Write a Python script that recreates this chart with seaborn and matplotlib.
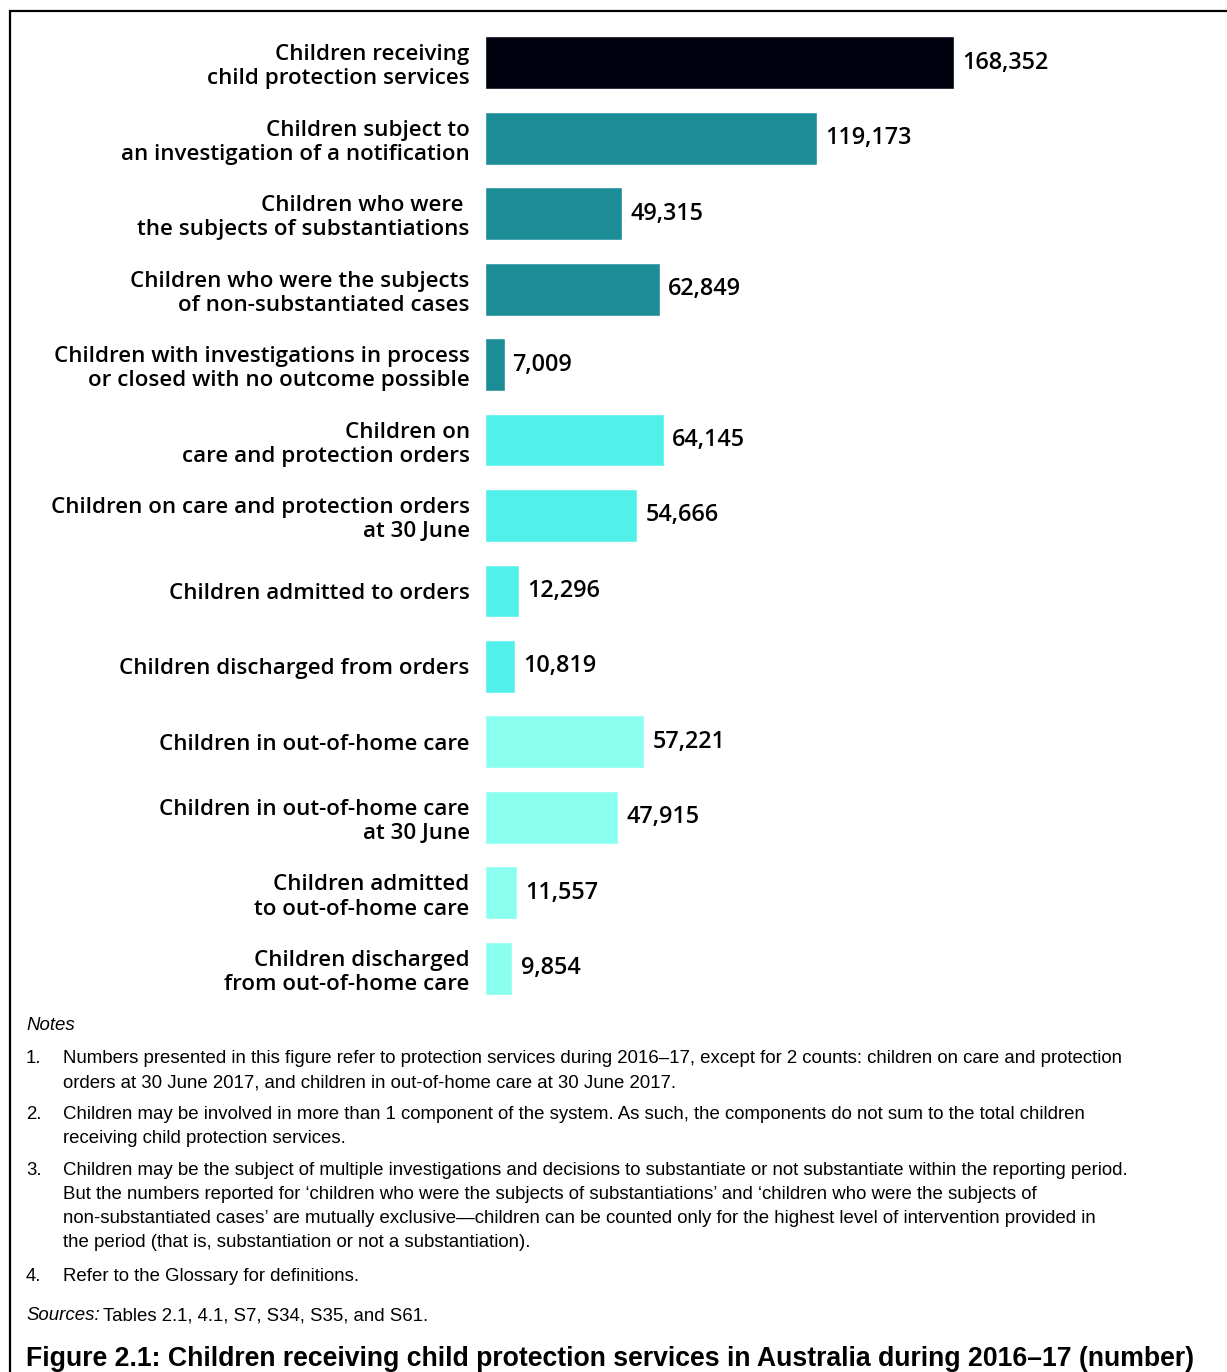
import numpy as np
import pandas as pd
import seaborn as sns
import matplotlib.pyplot as plt
from matplotlib.patches import Rectangle

# Data
categories = [
    "Children receiving\nchild protection services",
    "Children subject to\nan investigation of a notification",
    "Children who were \nthe subjects of substantiations",
    "Children who were the subjects\nof non-substantiated cases",
    "Children with investigations in process\nor closed with no outcome possible",
    "Children on\ncare and protection orders",
    "Children on care and protection orders\nat 30 June",
    "Children admitted to orders",
    "Children discharged from orders",
    "Children in out-of-home care",
    "Children in out-of-home care\nat 30 June",
    "Children admitted\nto out-of-home care",
    "Children discharged\nfrom out-of-home care",
]
values = [168352, 119173, 49315, 62849, 7009, 64145, 54666, 12296, 10819,
          57221, 47915, 11557, 9854]
groups = ["total", "investigation", "investigation", "investigation", "investigation",
          "orders", "orders", "orders", "orders",
          "ohc", "ohc", "ohc", "ohc"]
group_colors = {"total": "#01020f", "investigation": "#1c8c96",
                "orders": "#52f0ea", "ohc": "#8afff0"}

notes = [
    ("1.", "Numbers presented in this figure refer to protection services during 2016\u201317, except for 2 counts: children on care and protection\norders at 30 June 2017, and children in out-of-home care at 30 June 2017."),
    ("2.", "Children may be involved in more than 1 component of the system. As such, the components do not sum to the total children\nreceiving child protection services."),
    ("3.", "Children may be the subject of multiple investigations and decisions to substantiate or not substantiate within the reporting period.\nBut the numbers reported for \u2018children who were the subjects of substantiations\u2019 and \u2018children who were the subjects of\nnon-substantiated cases\u2019 are mutually exclusive\u2014children can be counted only for the highest level of intervention provided in\nthe period (that is, substantiation or not a substantiation)."),
    ("4.", "Refer to the Glossary for definitions."),
]
sources = "Tables 2.1, 4.1, S7, S34, S35, and S61."
title = "Figure 2.1: Children receiving child protection services in Australia during 2016\u201317 (number)"

df = pd.DataFrame({"category": categories, "value": values, "group": groups})

sns.set_style("white")
plt.rcParams["font.family"] = ["Open Sans", "DejaVu Sans"]
plt.rcParams["text.color"] = "black"

W, H = 1227, 1372
fig = plt.figure(figsize=(W / 100, H / 100), dpi=100)
ax = fig.add_axes([485 / W, 1 - 1006 / H, (1200 - 485) / W, (1006 - 25) / H])

sns.barplot(data=df, x="value", y="category", hue="group", palette=group_colors,
            dodge=False, width=0.7, legend=False, ax=ax, saturation=1)
ax.set_xlim(0, 168352 * 715 / 469)
ax.set_ylim(12.5, -0.5)
ax.set_xlabel("")
ax.set_ylabel("")
ax.set_xticks([])
ax.tick_params(axis="y", length=0, pad=11, labelsize=16.1, labelcolor="black")
for lab in ax.get_yticklabels():
    lab.set_linespacing(1.2)
    lab.set_fontweight(600)
for s in ax.spines.values():
    s.set_visible(False)

for i, v in enumerate(values):
    ax.text(v + 2900, i, f"{v:,}", va="center", ha="left", fontsize=16.8,
            fontweight=600, color="black")

# notes block
def fy(py):
    return 1 - py / H

arial = ["Liberation Sans", "DejaVu Sans"]
fig.text(26 / W, fy(1026), "Notes", style="italic", family=arial, fontsize=13.4, va="center")
ypos = [1061, 1117, 1173, 1279]
for (num, body), y in zip(notes, ypos):
    fig.text(26 / W, fy(y - 11), num, family=arial, fontsize=13.4, va="top")
    fig.text(63 / W, fy(y - 11), body, family=arial, fontsize=13.4, va="top",
             linespacing=1.54)
fig.text(26 / W, fy(1316), "Sources:", style="italic", family=arial, fontsize=13.4, va="center")
fig.text(103 / W, fy(1316), sources, family=arial, fontsize=13.4, va="center")
fig.text(26 / W, fy(1359), title, family=arial, fontsize=19.2, fontweight="bold", va="center")

# frame around the figure
fig.patches.append(Rectangle((10 / W, -0.1), 1.2, fy(11) + 0.1, transform=fig.transFigure,
                             fill=False, edgecolor="black", linewidth=1.6, clip_on=False))

fig.savefig("out.png", dpi=100)
